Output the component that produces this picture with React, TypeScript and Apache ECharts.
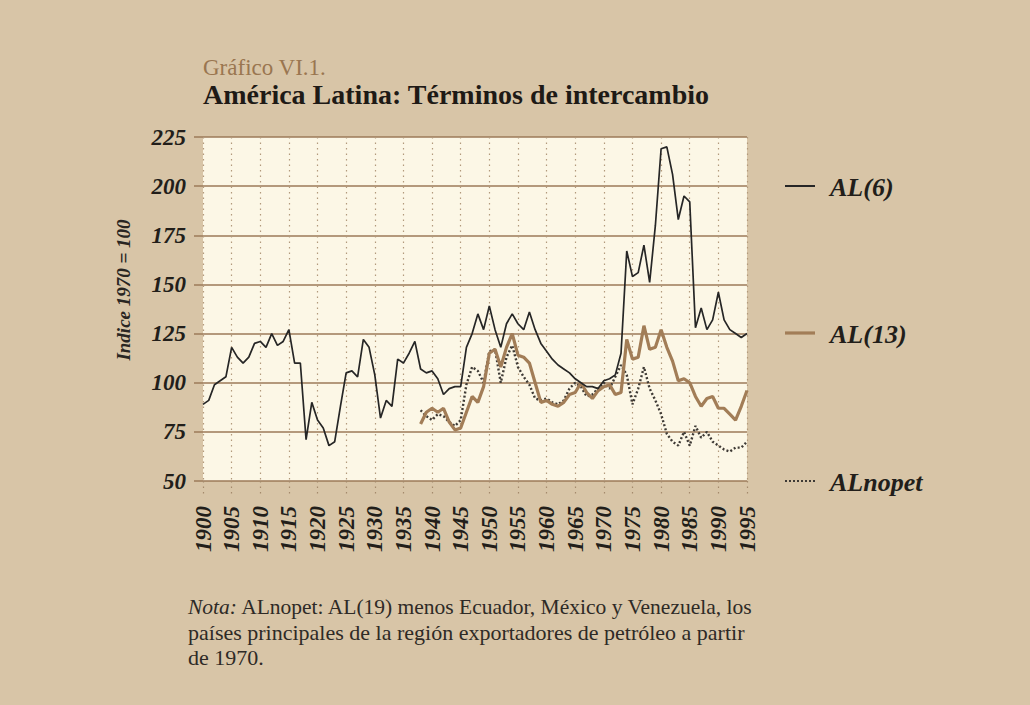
import React, { useEffect, useRef } from "react";
import * as echarts from "echarts";

// Year axis
const xMin = 1900;
const xMax = 1995;
const yMin = 50;
const yMax = 225;

// AL(6): 1900–1995
const al6Start = 1900;
const al6 = [
  89, 91, 99, 101, 103, 118, 113, 110, 113, 120,
  121, 118, 125, 119, 121, 127, 110, 110, 71, 90,
  81, 77, 68, 70, 88, 105, 106, 103, 122, 118,
  104, 82, 91, 88, 112, 110, 115, 121, 107, 105,
  106, 102, 94, 97, 98, 98, 118, 125, 135, 127,
  139, 127, 118, 130, 135, 130, 127, 136, 127, 120,
  116, 112, 109, 107, 105, 102, 100, 98, 98, 97,
  101, 102, 104, 115, 167, 154, 156, 170, 151, 180,
  219, 220, 206, 183, 195, 192, 128, 138, 127, 132,
  146, 132, 127, 125, 123, 125,
];

// AL(13): 1938–1995
const al13Start = 1938;
const al13 = [
  79, 85, 87, 85, 87, 80, 76, 77, 85, 93,
  90, 98, 115, 117, 108, 118, 125, 114, 113, 110,
  100, 90, 91, 89, 88, 90, 94, 95, 100, 95,
  92, 96, 98, 99, 94, 95, 122, 112, 113, 129,
  117, 118, 127, 118, 111, 101, 102, 100, 93, 88,
  92, 93, 87, 87, 84, 81, 88, 96,
];

// ALnopet: 1938–1995
const nopetStart = 1938;
const alnopet = [
  86, 83, 81, 84, 83, 80, 78, 81, 99, 108,
  106, 100, 116, 117, 100, 113, 119, 108, 103, 99,
  92, 91, 92, 90, 89, 91, 97, 100, 98, 93,
  94, 97, 100, 97, 103, 109, 104, 89, 97, 108,
  97, 91, 84, 74, 70, 68, 75, 68, 78, 72,
  75, 70, 68, 66, 65, 67, 67, 70,
];

const seriesNames = ["AL(6)", "AL(13)", "ALnopet"];
const titleLine1 = "Gráfico VI.1.";
const titleLine2 = "América Latina: Términos de intercambio";
const yAxisTitle = "Indice 1970 = 100";
const noteLines = [
  "ALnopet: AL(19) menos Ecuador, México y Venezuela, los",
  "países principales de la región exportadores de petróleo a partir",
  "de 1970.",
];

const toPairs = (start: number, vals: number[]) =>
  vals.map((v, i) => [start + i, v]);

const SERIF = "'Liberation Serif', 'DejaVu Serif', serif";
const BG = "#d8c5a7";
const GRID = "#9c7a58";
const C_AL6 = "#262626";
const C_AL13 = "#a27d57";
const C_NOPET = "#3e3a35";

export default function App() {
  const ref = useRef<HTMLDivElement>(null);
  useEffect(() => {
    document.body.style.margin = "0";
    document.body.style.background = BG;
    if (!ref.current) return;
    const chart = echarts.init(ref.current, undefined, { renderer: "svg" });

    const gLeft = 203;
    const gTop = 137;
    const gRight = 1030 - 747;
    const gBottom = 705 - 481;

    const legendItems = [
      { y: 186, name: seriesNames[0], color: C_AL6, w: 2, dash: null as any },
      { y: 333, name: seriesNames[1], color: C_AL13, w: 3.2, dash: null as any },
      { y: 481, name: seriesNames[2], color: C_NOPET, w: 2, dash: [2, 2] },
    ];

    const graphics: any[] = [
      {
        type: "text",
        left: 203,
        top: 56,
        style: { text: titleLine1, font: `23px ${SERIF}`, lineHeight: 23, fill: "#9a7650" },
      },
      {
        type: "text",
        left: 203,
        top: 80,
        style: { text: titleLine2, font: `bold 28px ${SERIF}`, lineHeight: 28, fill: "#1e1a16" },
      },
      {
        type: "text",
        x: 123,
        y: 290,
        rotation: Math.PI / 2,
        style: {
          text: yAxisTitle,
          font: `italic bold 19px ${SERIF}`,
          fill: "#2a2622",
          align: "center",
          verticalAlign: "middle",
        },
      },
      {
        type: "text",
        x: 188,
        y: 607,
        style: {
          text: "{i|Nota:} " + noteLines[0],
          font: `21.5px ${SERIF}`,
          fill: "#2e2a26",
          verticalAlign: "middle",
          rich: { i: { font: `italic 21.5px ${SERIF}`, fill: "#2e2a26" } },
        },
      },
      {
        type: "text",
        x: 188,
        y: 632,
        style: { text: noteLines[1], font: `22px ${SERIF}`, fill: "#2e2a26", verticalAlign: "middle" },
      },
      {
        type: "text",
        x: 188,
        y: 657,
        style: { text: noteLines[2], font: `22px ${SERIF}`, fill: "#2e2a26", verticalAlign: "middle" },
      },
    ];
    legendItems.forEach((it) => {
      graphics.push({
        type: "line",
        shape: { x1: 785, y1: it.y, x2: 815, y2: it.y },
        style: { stroke: it.color, lineWidth: it.w, lineDash: it.dash },
      });
      graphics.push({
        type: "text",
        x: 830,
        y: it.y + 1,
        style: {
          text: it.name,
          font: `italic bold 26px ${SERIF}`,
          fill: "#221e1a",
          verticalAlign: "middle",
        },
      });
    });

    chart.setOption({
      animation: false,
      backgroundColor: BG,
      grid: {
        left: gLeft,
        top: gTop,
        right: gRight,
        bottom: gBottom,
        show: true,
        backgroundColor: "#fcf7e6",
        borderWidth: 0,
      },
      xAxis: {
        type: "value",
        min: xMin,
        max: xMax,
        interval: 5,
        axisLine: { show: false },
        axisTick: {
          show: true,
          length: 16,
          lineStyle: { color: "#a48a6c", type: [1.5, 4], width: 1.2 },
        },
        splitLine: {
          show: true,
          lineStyle: { color: "#b29a7c", type: [1.5, 4], width: 1.2 },
        },
        axisLabel: {
          rotate: 90,
          margin: 25,
          color: "#221e1a",
          fontFamily: SERIF,
          fontStyle: "italic",
          fontWeight: "bold",
          fontSize: 23,
          formatter: (v: number) => String(v),
        },
      },
      yAxis: {
        type: "value",
        min: yMin,
        max: yMax,
        interval: 25,
        axisLine: { show: false },
        axisTick: { show: true, length: 9, lineStyle: { color: GRID, width: 1.5 } },
        splitLine: { show: true, lineStyle: { color: GRID, width: 1.5 } },
        axisLabel: {
          margin: 17,
          color: "#221e1a",
          fontFamily: SERIF,
          fontStyle: "italic",
          fontWeight: "bold",
          fontSize: 23,
        },
      },
      series: [
        {
          name: seriesNames[2],
          type: "line",
          data: toPairs(nopetStart, alnopet),
          showSymbol: false,
          symbol: "none",
          lineStyle: { color: C_NOPET, width: 2.4, type: [2, 2.2] },
          z: 3,
        },
        {
          name: seriesNames[1],
          type: "line",
          data: toPairs(al13Start, al13),
          showSymbol: false,
          symbol: "none",
          lineStyle: { color: C_AL13, width: 3.2 },
          z: 4,
        },
        {
          name: seriesNames[0],
          type: "line",
          data: toPairs(al6Start, al6),
          showSymbol: false,
          symbol: "none",
          lineStyle: { color: C_AL6, width: 1.7 },
          z: 5,
        },
      ],
      graphic: graphics,
    });

    return () => chart.dispose();
  }, []);

  return <div ref={ref} style={{ width: 1030, height: 705 }} />;
}
